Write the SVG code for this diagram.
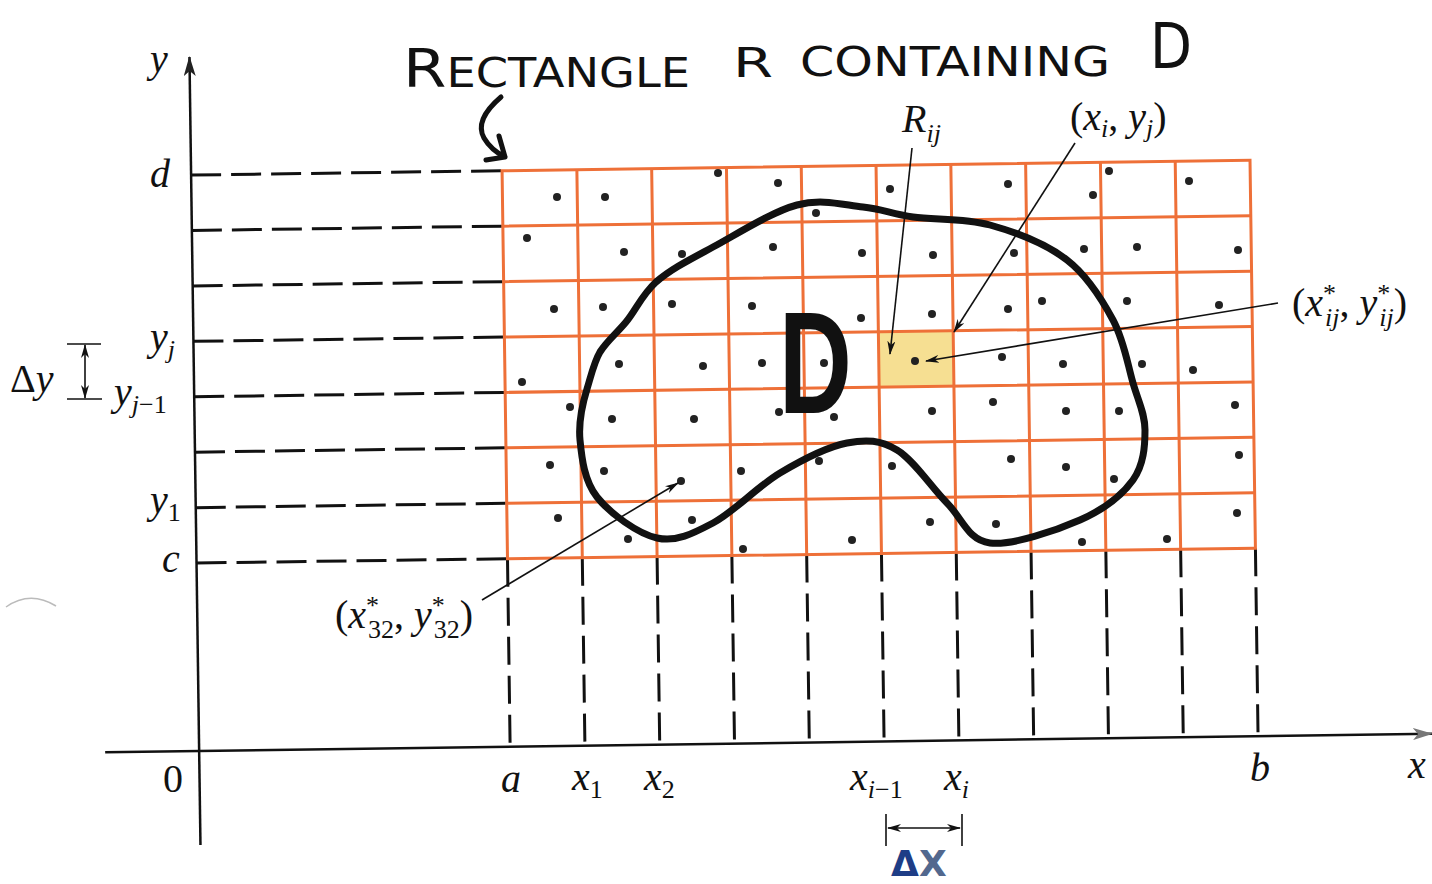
<svg xmlns="http://www.w3.org/2000/svg" width="1432" height="884" viewBox="0 0 1432 884">
<defs>
<style>
.grid{stroke:#ee7038;stroke-width:3;fill:none}
.dash{stroke:#111;stroke-width:3;fill:none}
.axis{stroke:#111;stroke-width:2.5;fill:none}
.ptr{stroke:#111;stroke-width:1.6;fill:none}
.dot{fill:#222}
.v{font-family:"Liberation Serif",serif;font-style:italic;font-size:40px;fill:#111}
.u{font-style:normal}
.s{font-size:26px}
.hand{font-family:"DejaVu Sans",sans-serif;fill:#111}
</style>
<marker id="ah" viewBox="0 0 14 8" refX="13" refY="4" markerWidth="14" markerHeight="8" markerUnits="userSpaceOnUse" orient="auto-start-reverse">
<path d="M0,0 L14,4 L0,8 L4,4 z" fill="#111"/>
</marker>
<marker id="axh" viewBox="0 0 20 12" refX="19" refY="6" markerWidth="20" markerHeight="12" markerUnits="userSpaceOnUse" orient="auto">
<path d="M0,0 L20,6 L0,12 L5,6 z" fill="#222"/>
</marker>
<marker id="axg" viewBox="0 0 20 12" refX="19" refY="6" markerWidth="20" markerHeight="12" markerUnits="userSpaceOnUse" orient="auto">
<path d="M0,0 L20,6 L0,12 L5,6 z" fill="#777"/>
</marker>
</defs>
<rect width="1432" height="884" fill="#fff"/>

<g id="frame" transform="rotate(-0.8 700 450)">
<g id="axes">
<line class="axis" x1="195" y1="838" x2="195" y2="50" marker-end="url(#axh)"/>
<line class="axis" x1="101" y1="744" x2="1428" y2="744" marker-end="url(#axg)"/>
</g>
<g id="guides" class="dash" stroke-dasharray="30 10">
<line x1="195" y1="168" x2="506" y2="168"/>
<line x1="195" y1="223.4" x2="506" y2="223.4"/>
<line x1="195" y1="278.9" x2="506" y2="278.9"/>
<line x1="195" y1="334.3" x2="506" y2="334.3"/>
<line x1="195" y1="389.7" x2="506" y2="389.7"/>
<line x1="195" y1="445.1" x2="506" y2="445.1"/>
<line x1="195" y1="500.6" x2="506" y2="500.6"/>
<line x1="195" y1="556" x2="506" y2="556"/>
</g>
<g id="vguides" class="dash" stroke-dasharray="28 11" stroke-width="2.6">
<line x1="506" y1="556" x2="506" y2="744"/>
<line x1="580.8" y1="556" x2="580.8" y2="744"/>
<line x1="655.6" y1="556" x2="655.6" y2="744"/>
<line x1="730.4" y1="556" x2="730.4" y2="744"/>
<line x1="805.2" y1="556" x2="805.2" y2="744"/>
<line x1="880" y1="556" x2="880" y2="744"/>
<line x1="954.8" y1="556" x2="954.8" y2="744"/>
<line x1="1029.6" y1="556" x2="1029.6" y2="744"/>
<line x1="1104.4" y1="556" x2="1104.4" y2="744"/>
<line x1="1179.2" y1="556" x2="1179.2" y2="744"/>
<line x1="1254" y1="556" x2="1254" y2="744"/>
</g>
<rect id="Rij-cell" x="880" y="334.3" width="74.8" height="55.4" fill="#f6df92"/>
<g id="grid" class="grid">
<rect x="506" y="168" width="748" height="388"/>
<path d="M580.8,168V556M655.6,168V556M730.4,168V556M805.2,168V556M880,168V556M954.8,168V556M1029.6,168V556M1104.4,168V556M1179.2,168V556"/>
<path d="M506,223.4H1254M506,278.9H1254M506,334.3H1254M506,389.7H1254M506,445.1H1254M506,500.6H1254"/>
</g>
</g>

<g id="samples" class="dot">
<circle cx="557" cy="197" r="4"/><circle cx="605" cy="197" r="4"/><circle cx="718" cy="173" r="4"/><circle cx="778" cy="183" r="4"/><circle cx="890" cy="189" r="4"/><circle cx="1008" cy="184" r="4"/><circle cx="1093" cy="195" r="4"/><circle cx="1109" cy="171" r="4"/><circle cx="1189" cy="181" r="4"/>
<circle cx="527" cy="238" r="4"/><circle cx="624" cy="252" r="4"/><circle cx="682" cy="254" r="4"/><circle cx="773" cy="247" r="4"/><circle cx="816" cy="213" r="4"/><circle cx="862" cy="253" r="4"/><circle cx="933" cy="255" r="4"/><circle cx="1014" cy="253" r="4"/><circle cx="1084" cy="249" r="4"/><circle cx="1137" cy="247" r="4"/><circle cx="1238" cy="250" r="4"/>
<circle cx="554" cy="309" r="4"/><circle cx="603" cy="307" r="4"/><circle cx="672" cy="304" r="4"/><circle cx="752" cy="306" r="4"/><circle cx="861" cy="318" r="4"/><circle cx="932" cy="314" r="4"/><circle cx="1008" cy="309" r="4"/><circle cx="1042" cy="301" r="4"/><circle cx="1127" cy="301" r="4"/><circle cx="1219" cy="305" r="4"/>
<circle cx="522" cy="382" r="4"/><circle cx="619" cy="364" r="4"/><circle cx="703" cy="366" r="4"/><circle cx="762" cy="363" r="4"/><circle cx="824" cy="363" r="4"/><circle cx="915" cy="361" r="4"/><circle cx="1002" cy="357" r="4"/><circle cx="1063" cy="364" r="4"/><circle cx="1142" cy="364" r="4"/><circle cx="1193" cy="370" r="4"/>
<circle cx="570" cy="407" r="4"/><circle cx="612" cy="419" r="4"/><circle cx="694" cy="419" r="4"/><circle cx="779" cy="412" r="4"/><circle cx="834" cy="417" r="4"/><circle cx="932" cy="411" r="4"/><circle cx="993" cy="402" r="4"/><circle cx="1066" cy="411" r="4"/><circle cx="1119" cy="411" r="4"/><circle cx="1235" cy="405" r="4"/>
<circle cx="550" cy="465" r="4"/><circle cx="604" cy="471" r="4"/><circle cx="681" cy="481" r="4"/><circle cx="741" cy="471" r="4"/><circle cx="819" cy="461" r="4"/><circle cx="892" cy="466" r="4"/><circle cx="1011" cy="459" r="4"/><circle cx="1066" cy="467" r="4"/><circle cx="1114" cy="479" r="4"/><circle cx="1239" cy="455" r="4"/>
<circle cx="558" cy="518" r="4"/><circle cx="628" cy="539" r="4"/><circle cx="692" cy="520" r="4"/><circle cx="743" cy="549" r="4"/><circle cx="852" cy="540" r="4"/><circle cx="930" cy="522" r="4"/><circle cx="996" cy="524" r="4"/><circle cx="1082" cy="542" r="4"/><circle cx="1167" cy="539" r="4"/><circle cx="1237" cy="513" r="4"/>
</g>

<g id="region-D">
<path d="M600,352 C607,341 616,334 626,322 C636,310 641,296 656,282 C671,269 689,260 713,247 C737,234 772,211.7 797,205 C822,198.3 843.7,205 863,207 C882.3,209 891.8,214 913,217 C934.2,220 964.3,217.8 990,225 C1015.7,232.2 1046.5,244.2 1067,260 C1087.5,275.8 1102,299.5 1113,320 C1124,340.5 1127.7,364.7 1133,383 C1138.3,401.3 1145,413.8 1145,430 C1145,446.2 1143.8,465 1133,480 C1122.2,495 1103.8,509.5 1080,520 C1056.2,530.5 1012.2,545.8 990,543 C967.8,540.2 962.5,518.5 947,503 C931.5,487.5 913.7,460 897,450 C880.3,440 866.5,439.2 847,443 C827.5,446.8 802.3,459.7 780,473 C757.7,486.3 733.5,512.2 713,523 C692.5,533.8 676.3,542.3 657,538 C637.7,533.7 609.8,513.3 597,497 C584.2,480.7 581.7,457.8 580,440 C578.3,422.2 583,402 587,389 C591,376 594,362 600,352 Z" fill="none" stroke="#111" stroke-width="7" stroke-linejoin="round"/>
<text transform="translate(779,413) scale(0.7,1)" font-family="Liberation Sans, sans-serif" font-weight="bold" font-size="144" fill="#111">D</text>
</g>

<g id="title">
<text class="hand" x="403" y="87" font-size="40" textLength="287" lengthAdjust="spacingAndGlyphs"><tspan font-size="54">R</tspan>ECTANGLE</text>
<text class="hand" x="733" y="77" font-size="40" textLength="40" lengthAdjust="spacingAndGlyphs">R</text>
<text class="hand" x="800" y="76" font-size="40" textLength="310" lengthAdjust="spacingAndGlyphs">CONTAINING</text>
<text class="hand" x="1150" y="68" font-size="62" textLength="42" lengthAdjust="spacingAndGlyphs">D</text>
<path d="M501,97 Q474,120 484,138 Q491,150 505,157 M499,136 L505,157 L486,160" fill="none" stroke="#111" stroke-width="5" stroke-linecap="round" stroke-linejoin="round"/>
</g>

<g id="connectors">
<line class="ptr" x1="912" y1="148" x2="890" y2="354" marker-end="url(#ah)"/>
<line class="ptr" x1="1075" y1="143" x2="954" y2="332" marker-end="url(#ah)"/>
<line class="ptr" x1="1278" y1="303" x2="926" y2="361" marker-end="url(#ah)"/>
<line class="ptr" x1="482" y1="600" x2="678" y2="483" marker-end="url(#ah)"/>
</g>

<g id="dy-dim">
<line class="ptr" x1="67" y1="344" x2="101" y2="344"/>
<line class="ptr" x1="67" y1="399" x2="102" y2="399"/>
<line class="ptr" x1="85" y1="345" x2="85" y2="398" marker-start="url(#ah)" marker-end="url(#ah)"/>
<text class="v" x="10" y="392"><tspan class="u">Δ</tspan>y</text>
</g>

<g id="dx-dim">
<line class="ptr" x1="886" y1="814" x2="886" y2="846" stroke="#333"/>
<line class="ptr" x1="962" y1="814" x2="962" y2="846" stroke="#333"/>
<line class="ptr" x1="888" y1="828" x2="960" y2="828" stroke="#333" marker-start="url(#ah)" marker-end="url(#ah)"/>
<text x="891" y="876" font-family="DejaVu Sans, sans-serif" font-weight="bold" font-size="36"><tspan fill="#1e3d86">Δ</tspan><tspan fill="#52688e">X</tspan></text>
</g>

<g id="labels">
<text class="v" x="150" y="72">y</text>
<text class="v" x="150" y="187">d</text>
<text class="v" x="150" y="350">y<tspan class="s" dy="8">j</tspan></text>
<text class="v" x="114" y="405">y<tspan class="s" dy="8">j<tspan class="u">−1</tspan></tspan></text>
<text class="v" x="150" y="513">y<tspan class="s u" dy="8">1</tspan></text>
<text class="v" x="162" y="572">c</text>
<text class="v u" x="163" y="792">0</text>
<text class="v" x="501" y="792">a</text>
<text class="v" x="572" y="790">x<tspan class="s u" dy="8">1</tspan></text>
<text class="v" x="644" y="790">x<tspan class="s u" dy="8">2</tspan></text>
<text class="v" x="850" y="790">x<tspan class="s" dy="8">i<tspan class="u">−1</tspan></tspan></text>
<text class="v" x="944" y="790">x<tspan class="s" dy="8">i</tspan></text>
<text class="v" x="1250" y="781">b</text>
<text class="v" x="1408" y="778">x</text>
<text class="v" x="902" y="132">R<tspan class="s" dy="10">ij</tspan></text>
<text class="v" x="1070" y="130"><tspan class="u">(</tspan>x<tspan class="s" dy="7">i</tspan><tspan class="u" dy="-7">, </tspan>y<tspan class="s" dy="7">j</tspan><tspan class="u" dy="-7">)</tspan></text>
<text class="v" x="1292" y="316"><tspan class="u">(</tspan>x<tspan class="s u" dy="-14">*</tspan><tspan class="s" dx="-11" dy="24">ij</tspan><tspan class="u" dy="-10">, </tspan>y<tspan class="s u" dy="-14">*</tspan><tspan class="s" dx="-11" dy="24">ij</tspan><tspan class="u" dy="-10">)</tspan></text>
<text class="v" x="335" y="628"><tspan class="u">(</tspan>x<tspan class="s u" dy="-14">*</tspan><tspan class="s u" dx="-11" dy="24">32</tspan><tspan class="u" dy="-10">, </tspan>y<tspan class="s u" dy="-14">*</tspan><tspan class="s u" dx="-11" dy="24">32</tspan><tspan class="u" dy="-10">)</tspan></text>
</g>

<path id="smudge" d="M6,607 Q30,590 56,606" fill="none" stroke="#bbb" stroke-width="1.5"/>
</svg>
